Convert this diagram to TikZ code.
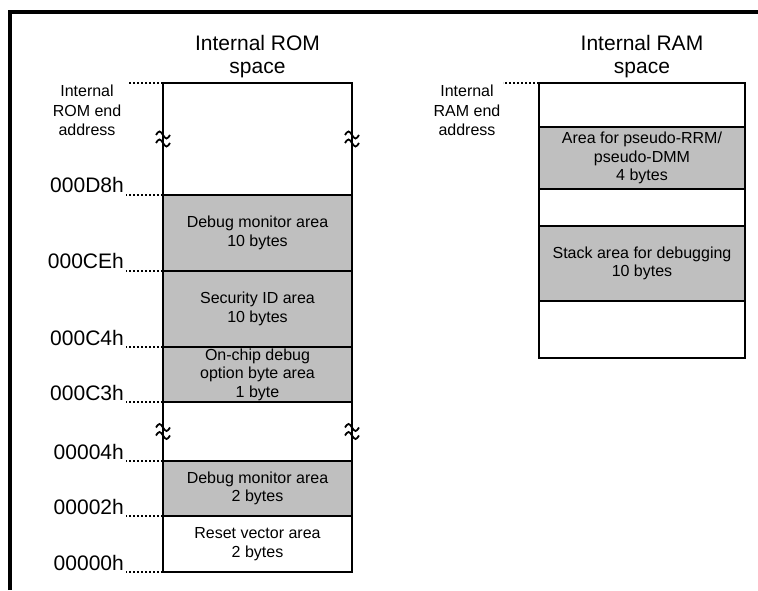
\documentclass[tikz,border=0pt]{standalone}
\usepackage{fontspec}
\setmainfont{Liberation Sans}
\usetikzlibrary{positioning}

\colorlet{areagray}{black!25}

\tikzset{
  brk/.pic={
    \draw[line width=1.8pt] (-7,4) sin (-3.5,7.5) cos (0,4) sin (3.5,0.5) cos (7,4);
    \draw[line width=1.8pt] (-7,-4) sin (-3.5,-0.5) cos (0,-4) sin (3.5,-7.5) cos (7,-4);
  }
}

\begin{document}
\begin{tikzpicture}[x=1pt,y=1pt,
    region/.style={draw,line width=1.8pt,outer sep=0pt,inner sep=0pt,align=center,
      font=\fontsize{16}{18.5}\selectfont},
    romreg/.style={region,minimum width=189pt},
    ramreg/.style={region,minimum width=206pt},
    used/.style={fill=areagray},
    title/.style={align=center,inner sep=0pt,font=\fontsize{21}{23.5}\selectfont},
    addr/.style={inner sep=0pt,font=\fontsize{21}{24}\selectfont},
    endlbl/.style={align=center,inner sep=0pt,font=\fontsize{16}{19.5}\selectfont},
    leader/.style={line width=1.4pt,dash pattern=on 2.2pt off 1.8pt}]
  \useasboundingbox (0,0) rectangle (758,590);

  % marco
  \draw[line width=4pt,line join=miter] (10.3,0) -- (10.3,578) -- (758,578);

  % ROM
  \node[romreg,minimum height=112pt,anchor=north west] (rtop) at (163,507) {};
  \node[romreg,used,minimum height=76pt,below=0pt of rtop] (dbg10) {Debug monitor area\\10 bytes};
  \node[romreg,used,minimum height=76pt,below=0pt of dbg10] (secid) {Security ID area\\10 bytes};
  \node[romreg,used,minimum height=55pt,below=0pt of secid] (ocd) {On-chip debug\\option byte area\\1 byte};
  \node[romreg,minimum height=59pt,below=0pt of ocd] (gap) {};
  \node[romreg,used,minimum height=55pt,below=0pt of gap] (dbg2) {Debug monitor area\\2 bytes};
  \node[romreg,minimum height=56pt,below=0pt of dbg2] (reset) {Reset vector area\\2 bytes};
  \node[title,above=4.5pt of rtop] (romttl) {Internal ROM\\space};

  % RAM
  \node[ramreg,minimum height=44pt,anchor=north west] (atop) at (539,507) {};
  \node[ramreg,used,minimum height=62pt,below=0pt of atop] (pseudo) {Area for pseudo-RRM/\\pseudo-DMM\\4 bytes};
  \node[ramreg,minimum height=37pt,below=0pt of pseudo] (amid) {};
  \node[ramreg,used,minimum height=75pt,below=0pt of amid] (stack) {Stack area for debugging\\10 bytes};
  \node[ramreg,minimum height=57pt,below=0pt of stack] (abot) {};
  \node[title,above=4.5pt of atop] (ramttl) {Internal RAM\\space};

  % direcciones
  \draw[leader] (rtop.north west) -- ++(-35pt,0) coordinate (romend);
  \node[endlbl,anchor=north] (romendlbl) at ([xshift=-41pt,yshift=-2pt]romend) {Internal\\ROM end\\address};
  \draw[leader] (atop.north west) -- ++(-36pt,0) coordinate (ramend);
  \node[endlbl,anchor=north] (ramendlbl) at ([xshift=-36pt,yshift=-2pt]ramend) {Internal\\RAM end\\address};
  \foreach \reg/\adr in {rtop/000D8h,dbg10/000CEh,secid/000C4h,ocd/000C3h,gap/00004h,dbg2/00002h,reset/00000h}{
    \draw[leader] (\reg.south west) -- ++(-37pt,0) coordinate (c\reg);
    \node[addr,anchor=base east] (a\reg) at ([xshift=-2pt,yshift=2pt]c\reg) {\adr};
  }

  % cortes
  \foreach \p in {rtop.west,rtop.east,gap.west,gap.east}
    \pic at (\p) {brk};
\end{tikzpicture}
\end{document}
